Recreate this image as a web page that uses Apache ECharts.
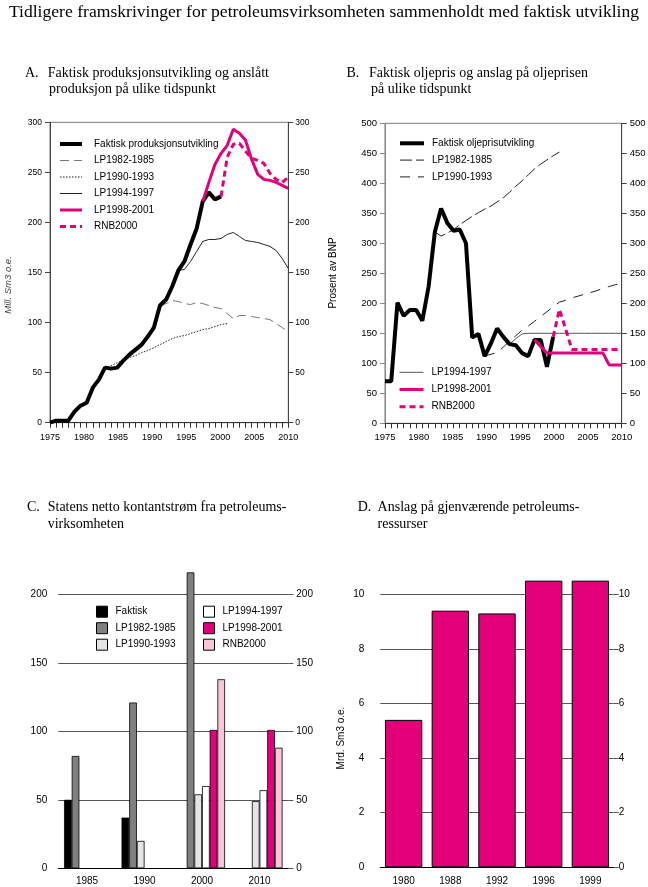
<!DOCTYPE html>
<html><head><meta charset="utf-8">
<script src="https://cdn.jsdelivr.net/npm/echarts@6/dist/echarts.min.js"></script>
<style>html,body{margin:0;padding:0;background:#fff}#c{width:648px;height:887px}</style>
</head><body><div id="c"></div>
<script>
// ---------------- Panel A: production, mill. Sm3 o.e. (data points 1971-2010) ----------------
const yearsA = ['1971','1972','1973','1974','1975','1976','1977','1978','1979','1980','1981','1982','1983','1984','1985','1986','1987','1988','1989','1990','1991','1992','1993','1994','1995','1996','1997','1998','1999','2000','2001','2002','2003','2004','2005','2006','2007','2008','2009','2010'];
const prodFaktisk = [0,2,2,2,11,17,20,35,43,55,54,55,62,68,73,78,86,95,117,123,136,152,161,178,194,221,230,223,226,null,null,null,null,null,null,null,null,null,null,null];
const prodLP8285 = [null,null,null,null,null,null,null,null,null,null,null,null,null,null,null,null,null,null,117,119,122,121,119,118,120,119,117,115,114,109,104,107,107,106,105,104,103,99,95,91];
const prodLP9093 = [null,null,null,null,null,null,null,null,null,55,57,60,62,65,67,70,72,75,78,81,84,86,87,89,91,93,94,96,98,99,null,null,null,null,null,null,null,null,null,null];
const prodLP9497 = [null,null,null,null,null,null,null,null,null,null,null,null,null,null,null,null,null,null,null,null,null,152,153,161,171,181,183,183,184,188,190,186,182,181,180,178,176,172,164,154];
const prodLP9801 = [null,null,null,null,null,null,null,null,null,null,null,null,null,null,null,null,null,null,null,null,null,null,null,null,null,221,240,258,269,277,293,289,282,263,248,243,242,240,237,234];
const prodRNB2000 = [null,null,null,null,null,null,null,null,null,null,null,null,null,null,null,null,null,null,null,null,null,null,null,null,null,null,null,null,226,265,278,279,271,264,262,259,249,243,240,245];

// ---------------- Panel B: oil price (data points 1972-2010) ----------------
const yearsB = ['1972','1973','1974','1975','1976','1977','1978','1979','1980','1981','1982','1983','1984','1985','1986','1987','1988','1989','1990','1991','1992','1993','1994','1995','1996','1997','1998','1999','2000','2001','2002','2003','2004','2005','2006','2007','2008','2009','2010'];
const oilFaktisk = [70,70,201,179,189,189,171,228,319,358,334,321,323,300,143,149,112,133,158,144,132,130,117,112,139,139,94,144,null,null,null,null,null,null,null,null,null,null,null];
const oilLP8285 = [null,null,null,null,null,null,null,null,319,312,317,323,331,338,345,351,357,362,369,376,385,395,404,414,424,432,439,446,452,null,null,null,null,null,null,null,null,null,null];
const oilLP9093 = [null,null,null,null,null,null,null,null,null,null,null,null,null,null,null,null,112,115,118,127,137,146,155,162,170,178,186,194,202,205,209,212,215,218,221,225,228,231,234];
const oilLP9497 = [null,null,null,null,null,null,null,null,null,null,null,null,null,null,null,null,null,null,null,null,132,141,149,150,150,150,150,150,150,150,150,150,150,150,150,150,150,150,150];
const oilLP9801 = [null,null,null,null,null,null,null,null,null,null,null,null,null,null,null,null,null,null,null,null,null,null,null,null,139,128,117,117,117,117,117,117,117,117,117,117,97,97,97];
const oilRNB2000 = [null,null,null,null,null,null,null,null,null,null,null,null,null,null,null,null,null,null,null,null,null,null,null,null,null,null,null,144,190,157,123,123,123,123,123,123,123,123,123];

// x-axis tick labels shown under panels A and B
const axisLabelYearMin = 1975, axisLabelYearMax = 2010, axisLabelYearStep = 5;

// ---------------- Panel C: net cash flow ----------------
const categoriesC = ['1985','1990','2000','2010'];
const cashFaktisk = [50,37,null,null];
const cashLP8285 = [82,121,216,null];
const cashLP9093 = [null,20,54,49];
const cashLP9497 = [null,null,60,57];
const cashLP9801 = [null,null,101,101];
const cashRNB2000 = [null,null,138,88];

// ---------------- Panel D: remaining resources ----------------
const categoriesD = ['1980','1988','1992','1996','1999'];
const resources = [5.4,9.4,9.3,10.5,10.5];

const PINK = '#e2007a';
const SANS = '"Liberation Sans", Arial, sans-serif';
const SERIF = '"Liberation Serif", "Times New Roman", serif';

function line(name, data, xi, yi, color, width, type, z) {
  return {type:'line', name, data, xAxisIndex:xi, yAxisIndex:yi, symbol:'none', showSymbol:false,
    connectNulls:false, animation:false, silent:true, z,
    lineStyle:{color, width, type}, itemStyle:{color}};
}
function bar(name, data, color) {
  return {type:'bar', name, data, xAxisIndex:4, yAxisIndex:4, barGap:'0%', barCategoryGap:'20%',
    animation:false, silent:true, clip:false,
    itemStyle:{color, borderColor:'#000', borderWidth:0.8}};
}
const strip = n => n.split('|')[1];
const li = (name, w) => ({name, lineStyle:{width:w}});

function catX(gi, data) {
  return {type:'category', gridIndex:gi, data, boundaryGap:false,
    axisLine:{show:true, lineStyle:{color:'#333', width:1}},
    axisTick:{show:true, interval:0, length:5, inside:false, lineStyle:{color:'#333'}},
    axisLabel:{show:false}, splitLine:{show:false}};
}
function labX(gi, fs, margin) {
  return {type:'value', gridIndex:gi, min:axisLabelYearMin, max:axisLabelYearMax, interval:axisLabelYearStep,
    position:'bottom', offset:0, axisLine:{show:false}, axisTick:{show:false}, splitLine:{show:false},
    axisLabel:{show:true, fontSize:fs, margin, color:'#000', fontFamily:SANS, showMinLabel:true, showMaxLabel:true,
      formatter: v => String(v)}};
}
function valY(gi, pos, max, interval, fs, margin, lineColor, opts) {
  const o = {type:'value', gridIndex:gi, position:pos, min:0, max, interval,
    axisLine:{show:true, lineStyle:{color:lineColor, width:1}},
    axisTick:{show:true, length:5, inside:false, lineStyle:{color:lineColor}},
    axisLabel:{fontSize:fs, margin, color:'#000', fontFamily:SANS},
    splitLine:{show:false}};
  return Object.assign(o, opts || {});
}
const lineLegendBase = {orient:'vertical', padding:0, itemHeight:12, selectedMode:false,
  itemStyle:{opacity:0, color:'transparent', borderColor:'transparent', borderWidth:0},
  formatter:strip};

const option = {
  animation:false,
  backgroundColor:'#fff',
  grid:[
    {left:50, top:122.3, width:238.3, height:300.4, show:true, borderColor:'#777', borderWidth:1, backgroundColor:'transparent', containLabel:false, outerBoundsMode:'none'},
    {left:385, top:123.3, width:236.7, height:300, show:true, borderColor:'#777', borderWidth:1, backgroundColor:'transparent', containLabel:false, outerBoundsMode:'none'},
    {left:58.3, top:594.3, width:230, height:274, show:false, containLabel:false, outerBoundsMode:'none'},
    {left:380.3, top:594.3, width:233.4, height:273, show:false, containLabel:false, outerBoundsMode:'none'}
  ],
  xAxis:[
    catX(0, yearsA),
    labX(0, 9, 10),
    catX(1, yearsB),
    labX(1, 9.5, 9),
    {type:'category', gridIndex:2, data:categoriesC,
      axisLine:{lineStyle:{color:'#000'}}, axisTick:{alignWithLabel:true, length:5, lineStyle:{color:'#000'}},
      axisLabel:{fontSize:10, margin:8, color:'#000', fontFamily:SANS}},
    {type:'category', gridIndex:3, data:categoriesD,
      axisLine:{lineStyle:{color:'#000'}}, axisTick:{show:false},
      axisLabel:{fontSize:10, margin:9, color:'#000', fontFamily:SANS}}
  ],
  yAxis:[
    valY(0,'left',300,50,8.5,8,'#444'),
    valY(0,'right',300,50,8.5,7,'#444'),
    valY(1,'left',500,50,9.5,8,'#888'),
    valY(1,'right',500,50,9.5,8,'#444'),
    valY(2,'left',200,50,10,11,'#555',{axisLine:{show:false}, axisTick:{show:false}, splitLine:{show:true, lineStyle:{color:'#555', width:1}}}),
    valY(2,'right',200,50,10,8,'#555',{axisLine:{show:false}}),
    valY(3,'left',10,2,10,16,'#555',{axisLine:{show:false}, axisTick:{show:false}, splitLine:{show:true, lineStyle:{color:'#555', width:1}}}),
    valY(3,'right',10,2,10,5,'#555',{axisLine:{show:false}})
  ],
  legend:[
    Object.assign({}, lineLegendBase, {left:58, top:138, itemWidth:22, itemGap:4.5,
      data:[li('A|Faktisk produksjonsutvikling',4), li('A|LP1982-1985',1), li('A|LP1990-1993',1), li('A|LP1994-1997',1), li('A|LP1998-2001',3), li('A|RNB2000',3)],
      textStyle:{fontSize:10, fontFamily:SANS, color:'#000', padding:[0,0,0,7], lineHeight:12}}),
    Object.assign({}, lineLegendBase, {left:398, top:137.3, itemWidth:24, itemGap:4.8,
      data:[li('B|Faktisk oljeprisutvikling',4), li('B|LP1982-1985',1), li('B|LP1990-1993',1)],
      textStyle:{fontSize:10, fontFamily:SANS, color:'#000', padding:[0,0,0,3], lineHeight:12}}),
    Object.assign({}, lineLegendBase, {left:398, top:366.3, itemWidth:24, itemGap:5.2,
      data:[li('B|LP1994-1997',1), li('B|LP1998-2001',3), li('B|RNB2000',3)],
      textStyle:{fontSize:10, fontFamily:SANS, color:'#000', padding:[0,0,0,3], lineHeight:12}}),
    {orient:'vertical', left:96, top:605.7, padding:0, itemWidth:11, itemHeight:11, itemGap:4.5, icon:'rect', selectedMode:false,
      itemStyle:{borderColor:'#000', borderWidth:1},
      data:['C|Faktisk','C|LP1982-1985','C|LP1990-1993'],
      formatter:strip, textStyle:{fontSize:10, fontFamily:SANS, color:'#000', padding:[0,0,0,3], lineHeight:12}},
    {orient:'vertical', left:203, top:605.7, padding:0, itemWidth:11, itemHeight:11, itemGap:4.5, icon:'rect', selectedMode:false,
      itemStyle:{borderColor:'#000', borderWidth:1},
      data:['C|LP1994-1997','C|LP1998-2001','C|RNB2000'],
      formatter:strip, textStyle:{fontSize:10, fontFamily:SANS, color:'#000', padding:[0,0,0,3], lineHeight:12}}
  ],
  series:[
    // Panel A
    line('A|LP1982-1985', prodLP8285, 0, 0, '#777', 1, [9,5], 2),
    line('A|LP1990-1993', prodLP9093, 0, 0, '#222', 1, [1.5,1.5], 2),
    line('A|LP1994-1997', prodLP9497, 0, 0, '#222', 1, 'solid', 2),
    line('A|Faktisk produksjonsutvikling', prodFaktisk, 0, 0, '#000', 4, 'solid', 3),
    line('A|LP1998-2001', prodLP9801, 0, 0, PINK, 3, 'solid', 4),
    line('A|RNB2000', prodRNB2000, 0, 0, PINK, 3, [6,4], 4),
    // Panel B
    line('B|LP1982-1985', oilLP8285, 2, 2, '#222', 1, [12,4], 2),
    line('B|LP1990-1993', oilLP9093, 2, 2, '#222', 1, [10,8], 2),
    line('B|LP1994-1997', oilLP9497, 2, 2, '#555', 1, 'solid', 2),
    line('B|Faktisk oljeprisutvikling', oilFaktisk, 2, 2, '#000', 4, 'solid', 3),
    line('B|LP1998-2001', oilLP9801, 2, 2, PINK, 3, 'solid', 4),
    line('B|RNB2000', oilRNB2000, 2, 2, PINK, 3, [6,4], 4),
    // Panel C
    bar('C|Faktisk', cashFaktisk, '#000'),
    bar('C|LP1982-1985', cashLP8285, '#808080'),
    bar('C|LP1990-1993', cashLP9093, '#e4e4e4'),
    bar('C|LP1994-1997', cashLP9497, '#ffffff'),
    bar('C|LP1998-2001', cashLP9801, PINK),
    bar('C|RNB2000', cashRNB2000, '#f8c6d8'),
    // Panel D
    {type:'bar', name:'D|Ressurser', data:resources, xAxisIndex:5, yAxisIndex:6, barCategoryGap:'20%',
      animation:false, silent:true, clip:false, itemStyle:{color:PINK, borderColor:'#000', borderWidth:1}}
  ],
  graphic:[
    {type:'text', x:324, y:12, style:{text:'Tidligere framskrivinger for petroleumsvirksomheten sammenholdt med faktisk utvikling', font:'17.6px '+SERIF, fill:'#000', align:'center', verticalAlign:'middle', textAlign:'center', textVerticalAlign:'middle'}},
    {type:'text', x:25, y:73, style:{text:'A.', font:'14px '+SERIF, fill:'#000', align:'left', verticalAlign:'middle', textVerticalAlign:'middle'}},
    {type:'text', x:47.7, y:73, style:{text:'Faktisk produksjonsutvikling og anslått', font:'14px '+SERIF, fill:'#000', align:'left', verticalAlign:'middle', textVerticalAlign:'middle'}},
    {type:'text', x:49, y:89, style:{text:'produksjon på ulike tidspunkt', font:'14px '+SERIF, fill:'#000', align:'left', verticalAlign:'middle', textVerticalAlign:'middle'}},
    {type:'text', x:346.5, y:73, style:{text:'B.', font:'14px '+SERIF, fill:'#000', align:'left', verticalAlign:'middle', textVerticalAlign:'middle'}},
    {type:'text', x:369, y:73, style:{text:'Faktisk oljepris og anslag på oljeprisen', font:'14px '+SERIF, fill:'#000', align:'left', verticalAlign:'middle', textVerticalAlign:'middle'}},
    {type:'text', x:371, y:89, style:{text:'på ulike tidspunkt', font:'14px '+SERIF, fill:'#000', align:'left', verticalAlign:'middle', textVerticalAlign:'middle'}},
    {type:'text', x:27, y:507, style:{text:'C.', font:'14px '+SERIF, fill:'#000', align:'left', verticalAlign:'middle', textVerticalAlign:'middle'}},
    {type:'text', x:47.7, y:507, style:{text:'Statens netto kontantstrøm fra petroleums-', font:'14px '+SERIF, fill:'#000', align:'left', verticalAlign:'middle', textVerticalAlign:'middle'}},
    {type:'text', x:47.7, y:524, style:{text:'virksomheten', font:'14px '+SERIF, fill:'#000', align:'left', verticalAlign:'middle', textVerticalAlign:'middle'}},
    {type:'text', x:357.7, y:507, style:{text:'D.', font:'14px '+SERIF, fill:'#000', align:'left', verticalAlign:'middle', textVerticalAlign:'middle'}},
    {type:'text', x:377.6, y:507, style:{text:'Anslag på gjenværende petroleums-', font:'14px '+SERIF, fill:'#000', align:'left', verticalAlign:'middle', textVerticalAlign:'middle'}},
    {type:'text', x:377.6, y:524, style:{text:'ressurser', font:'14px '+SERIF, fill:'#000', align:'left', verticalAlign:'middle', textVerticalAlign:'middle'}},
    {type:'text', x:8, y:285, rotation:Math.PI/2, style:{text:'Mill. Sm3 o.e.', font:'italic 9.5px '+SANS, fill:'#444', align:'center', verticalAlign:'middle', textAlign:'center', textVerticalAlign:'middle'}},
    {type:'text', x:333, y:273, rotation:Math.PI/2, style:{text:'Prosent av BNP', font:'10px '+SANS, fill:'#000', align:'center', verticalAlign:'middle', textAlign:'center', textVerticalAlign:'middle'}},
    {type:'text', x:341, y:738, rotation:Math.PI/2, style:{text:'Mrd. Sm3 o.e.', font:'10px '+SANS, fill:'#000', align:'center', verticalAlign:'middle', textAlign:'center', textVerticalAlign:'middle'}}
  ]
};
const chart = echarts.init(document.getElementById('c'), null, {renderer:'canvas', width:648, height:887});
chart.setOption(option);
</script>
</body></html>
